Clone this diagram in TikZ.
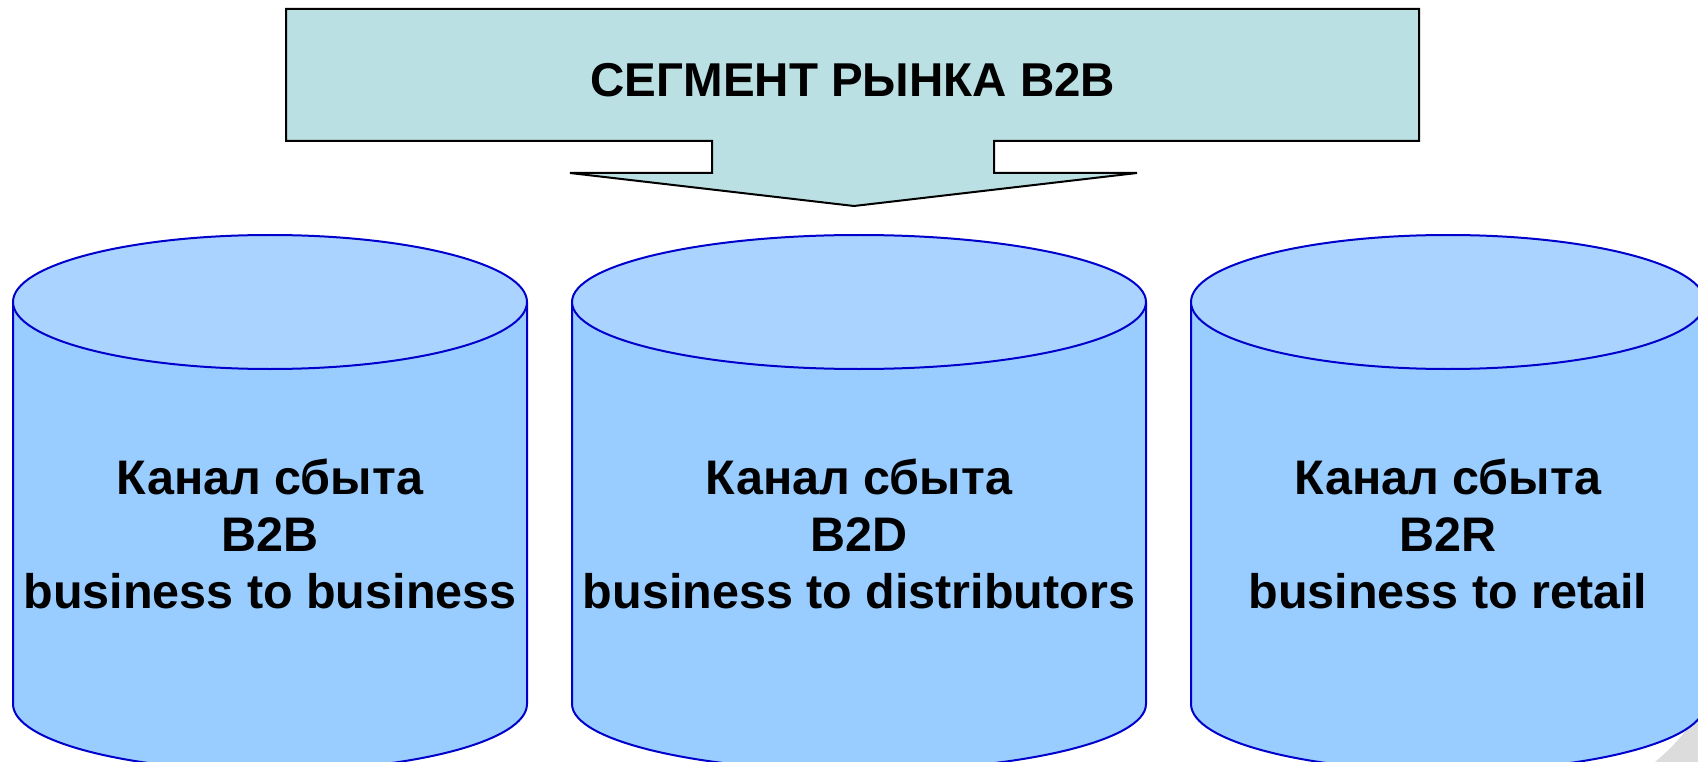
\documentclass[tikz,border=0pt]{standalone}
\usepackage{fontspec}
\setmainfont{Liberation Sans}
\definecolor{segfill}{HTML}{BBE0E3}
\definecolor{cylbody}{HTML}{99CCFF}
\definecolor{cyltop}{HTML}{AAD4FF}
\definecolor{cylline}{HTML}{0000CC}
\definecolor{curlgrey}{HTML}{DCDCDC}

% one sales-channel cylinder: #1 left x, #2 right x, #3 node name, #4 label
\newcommand\salescyl[4]{%
  \fill[cylbody] (#1,302) -- (#1,704)
    arc[start angle=180,end angle=0,x radius={(#2-#1)/2},y radius=67]
    -- (#2,302) -- cycle;
  \draw[cyledge] (#1,302) -- (#1,704)
    arc[start angle=180,end angle=0,x radius={(#2-#1)/2},y radius=67]
    -- (#2,302);
  \draw[cyledge,fill=cyltop] ({(#1+#2)/2},302)
    ellipse[x radius={(#2-#1)/2},y radius=67];
  \node[cyltext] (#3) at ({(#1+#2)/2},534) {#4};
}

\begin{document}
\begin{tikzpicture}[x=1pt,y=-1pt,
  cyledge/.style={draw=cylline,line width=2pt},
  cyltext/.style={font=\bfseries\fontsize{48.5}{57}\selectfont,align=center,inner sep=0pt},
  segtext/.style={font=\bfseries\fontsize{47.5}{56}\selectfont,inner sep=0pt}]
\useasboundingbox (0,0) rectangle (1698,762);
\clip (0,0) rectangle (1698,762);

% soft page-curl shade in the lower right corner
\fill[curlgrey] (1655,762) .. controls (1672,748) and (1690,728) .. (1698,712)
  -- (1698,762) -- cycle;

% segment banner with its downward arrow
\draw[fill=segfill,line width=2pt,line join=miter]
  (286,9) -- (1419,9) -- (1419,141) -- (994,141) -- (994,173)
  -- (1137,173) -- (854,206) -- (570,173) -- (712,173) -- (712,141)
  -- (286,141) -- cycle;
\node[segtext,anchor=base] (segment) at (853,97) {СЕГМЕНТ РЫНКА B2B};

% sales channels
\salescyl{13}{527}{b2b}{Канал сбыта\\B2B\\business to business}
\salescyl{572}{1146}{b2d}{Канал сбыта\\B2D\\business to distributors}
\salescyl{1191}{1705}{b2r}{Канал сбыта\\B2R\\business to retail}
\end{tikzpicture}
\end{document}
